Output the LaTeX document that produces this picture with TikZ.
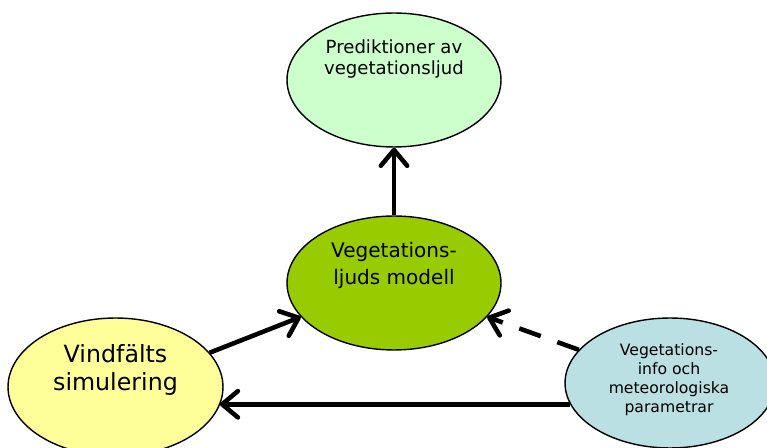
\documentclass[tikz,border=0pt]{standalone}
\usepackage{fontspec}
\setmainfont{DejaVu Sans}
\usetikzlibrary{shapes.geometric}
\usetikzlibrary{arrows.meta}

\definecolor{predgreen}{RGB}{204,255,204}
\definecolor{modelgreen}{RGB}{153,204,0}
\definecolor{windyellow}{RGB}{255,255,153}
\definecolor{infoblue}{RGB}{187,224,227}

\begin{document}
\begin{tikzpicture}[x=0.02cm, y=-0.02cm,
	blob/.style={ellipse, draw=black, line width=0.8pt, inner sep=0pt},
	lbl/.style={align=center, anchor=north, inner sep=0pt},
	flow/.style={line width=2.6pt, -{Straight Barb[length=9pt,width=15pt,round]}}]
	\path[use as bounding box, clip] (0,0) rectangle (767,448);
	% ellipses
	\node[blob, fill=predgreen, minimum width=4.28cm, minimum height=2.68cm](pred) at (394,80){};
	\node[blob, fill=modelgreen, minimum width=4.28cm, minimum height=2.68cm](veg) at (394,283){};
	\node[blob, fill=windyellow, minimum width=4.30cm, minimum height=2.76cm](vind) at (115.5,387){};
	\node[blob, fill=infoblue, minimum width=4.20cm, minimum height=2.60cm](info) at (670,383){};
	% texts
	\node[lbl, font=\fontsize{10.3pt}{11.9pt}\selectfont](predtxt) at (394,39){Prediktioner av\\vegetationsljud};
	\node[lbl, font=\fontsize{11.4pt}{15.3pt}\selectfont](vegtxt) at (394,242){Vegetations-\\ljuds modell};
	\node[lbl, font=\fontsize{13.5pt}{15.9pt}\selectfont](vindtxt) at (115.5,344){Vindfälts\\simulering};
	\node[lbl, font=\fontsize{8.9pt}{10.8pt}\selectfont](infotxt) at (669,343){Vegetations-\\info och\\meteorologiska\\parametrar};
	% arrows
	\draw[flow] (veg.north) -- (pred.south);
	\draw[flow] (vind.20) -- (veg.200);
	\draw[flow, dash pattern=on 13pt off 10pt] (info.160) -- (veg.340);
	\draw[flow] (info.192.5) -- (vind.350 |- info.192.5);
\end{tikzpicture}
\end{document}
